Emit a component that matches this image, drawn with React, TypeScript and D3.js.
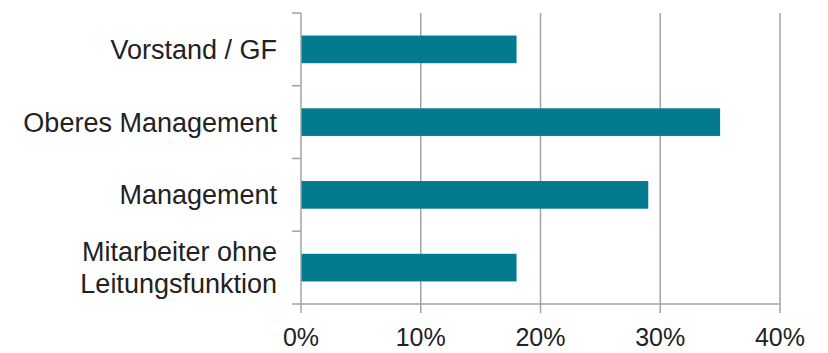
import React from "react";
import * as d3 from "d3";

const categories: string[][] = [
  ["Vorstand / GF"],
  ["Oberes Management"],
  ["Management"],
  ["Mitarbeiter ohne", "Leitungsfunktion"],
];
const values: number[] = [18, 35, 29, 18];
const tickValues: number[] = [0, 10, 20, 30, 40];

const W = 828;
const H = 353;
const left = 301;
const right = 780;
const top = 13;
const bottom = 304;

export default function App() {
  const x = d3.scaleLinear().domain([0, 40]).range([left, right]);
  const keys = categories.map((_, i) => String(i));
  const y = d3.scaleBand<string>().domain(keys).range([top, bottom]).paddingInner(0).paddingOuter(0);
  const bw = y.bandwidth();
  const barH = bw * 0.38;
  const gridColor = "#a3a3a3";
  const font = "Liberation Sans, Arial, Helvetica, sans-serif";
  const bandEdges = keys.map((k) => y(k) as number).concat([bottom]);

  return (
    <svg width={W} height={H} style={{ position: "absolute", left: 0, top: 0, background: "#fff" }}>
      {/* vertical gridlines */}
      {tickValues.slice(1).map((t) => (
        <line key={"g" + t} x1={x(t)} x2={x(t)} y1={top} y2={bottom} stroke={gridColor} strokeWidth={1.5} />
      ))}
      {/* bars */}
      {values.map((v, i) => {
        const cy = (y(keys[i]) as number) + bw / 2;
        return (
          <rect
            key={"b" + i}
            x={x(0)}
            y={cy - barH / 2}
            width={x(v) - x(0)}
            height={barH}
            fill="#037a8d"
          />
        );
      })}
      {/* category axis */}
      <line x1={left} x2={left} y1={top} y2={bottom} stroke={gridColor} strokeWidth={1.5} />
      {bandEdges.map((e, i) => (
        <line key={"ct" + i} x1={left - 9} x2={left} y1={e} y2={e} stroke={gridColor} strokeWidth={1.5} />
      ))}
      {/* value axis */}
      <line x1={left} x2={right} y1={bottom} y2={bottom} stroke={gridColor} strokeWidth={1.5} />
      {tickValues.map((t) => (
        <g key={"t" + t}>
          <line x1={x(t)} x2={x(t)} y1={bottom} y2={bottom + 9} stroke={gridColor} strokeWidth={1.5} />
          <text
            x={x(t)}
            y={346}
            textAnchor="middle"
            fontFamily={font}
            fontSize={25}
            fill="#222"
          >
            {t + "%"}
          </text>
        </g>
      ))}
      {/* category labels */}
      {categories.map((lines, i) => {
        const cy = (y(keys[i]) as number) + bw / 2;
        const lh = 32;
        const start = cy - ((lines.length - 1) * lh) / 2;
        return (
          <text key={"l" + i} textAnchor="end" fontFamily={font} fontSize={27} fill="#222">
            {lines.map((ln, j) => (
              <tspan key={j} x={277} y={start + j * lh} dy="0.35em">
                {ln}
              </tspan>
            ))}
          </text>
        );
      })}
    </svg>
  );
}
